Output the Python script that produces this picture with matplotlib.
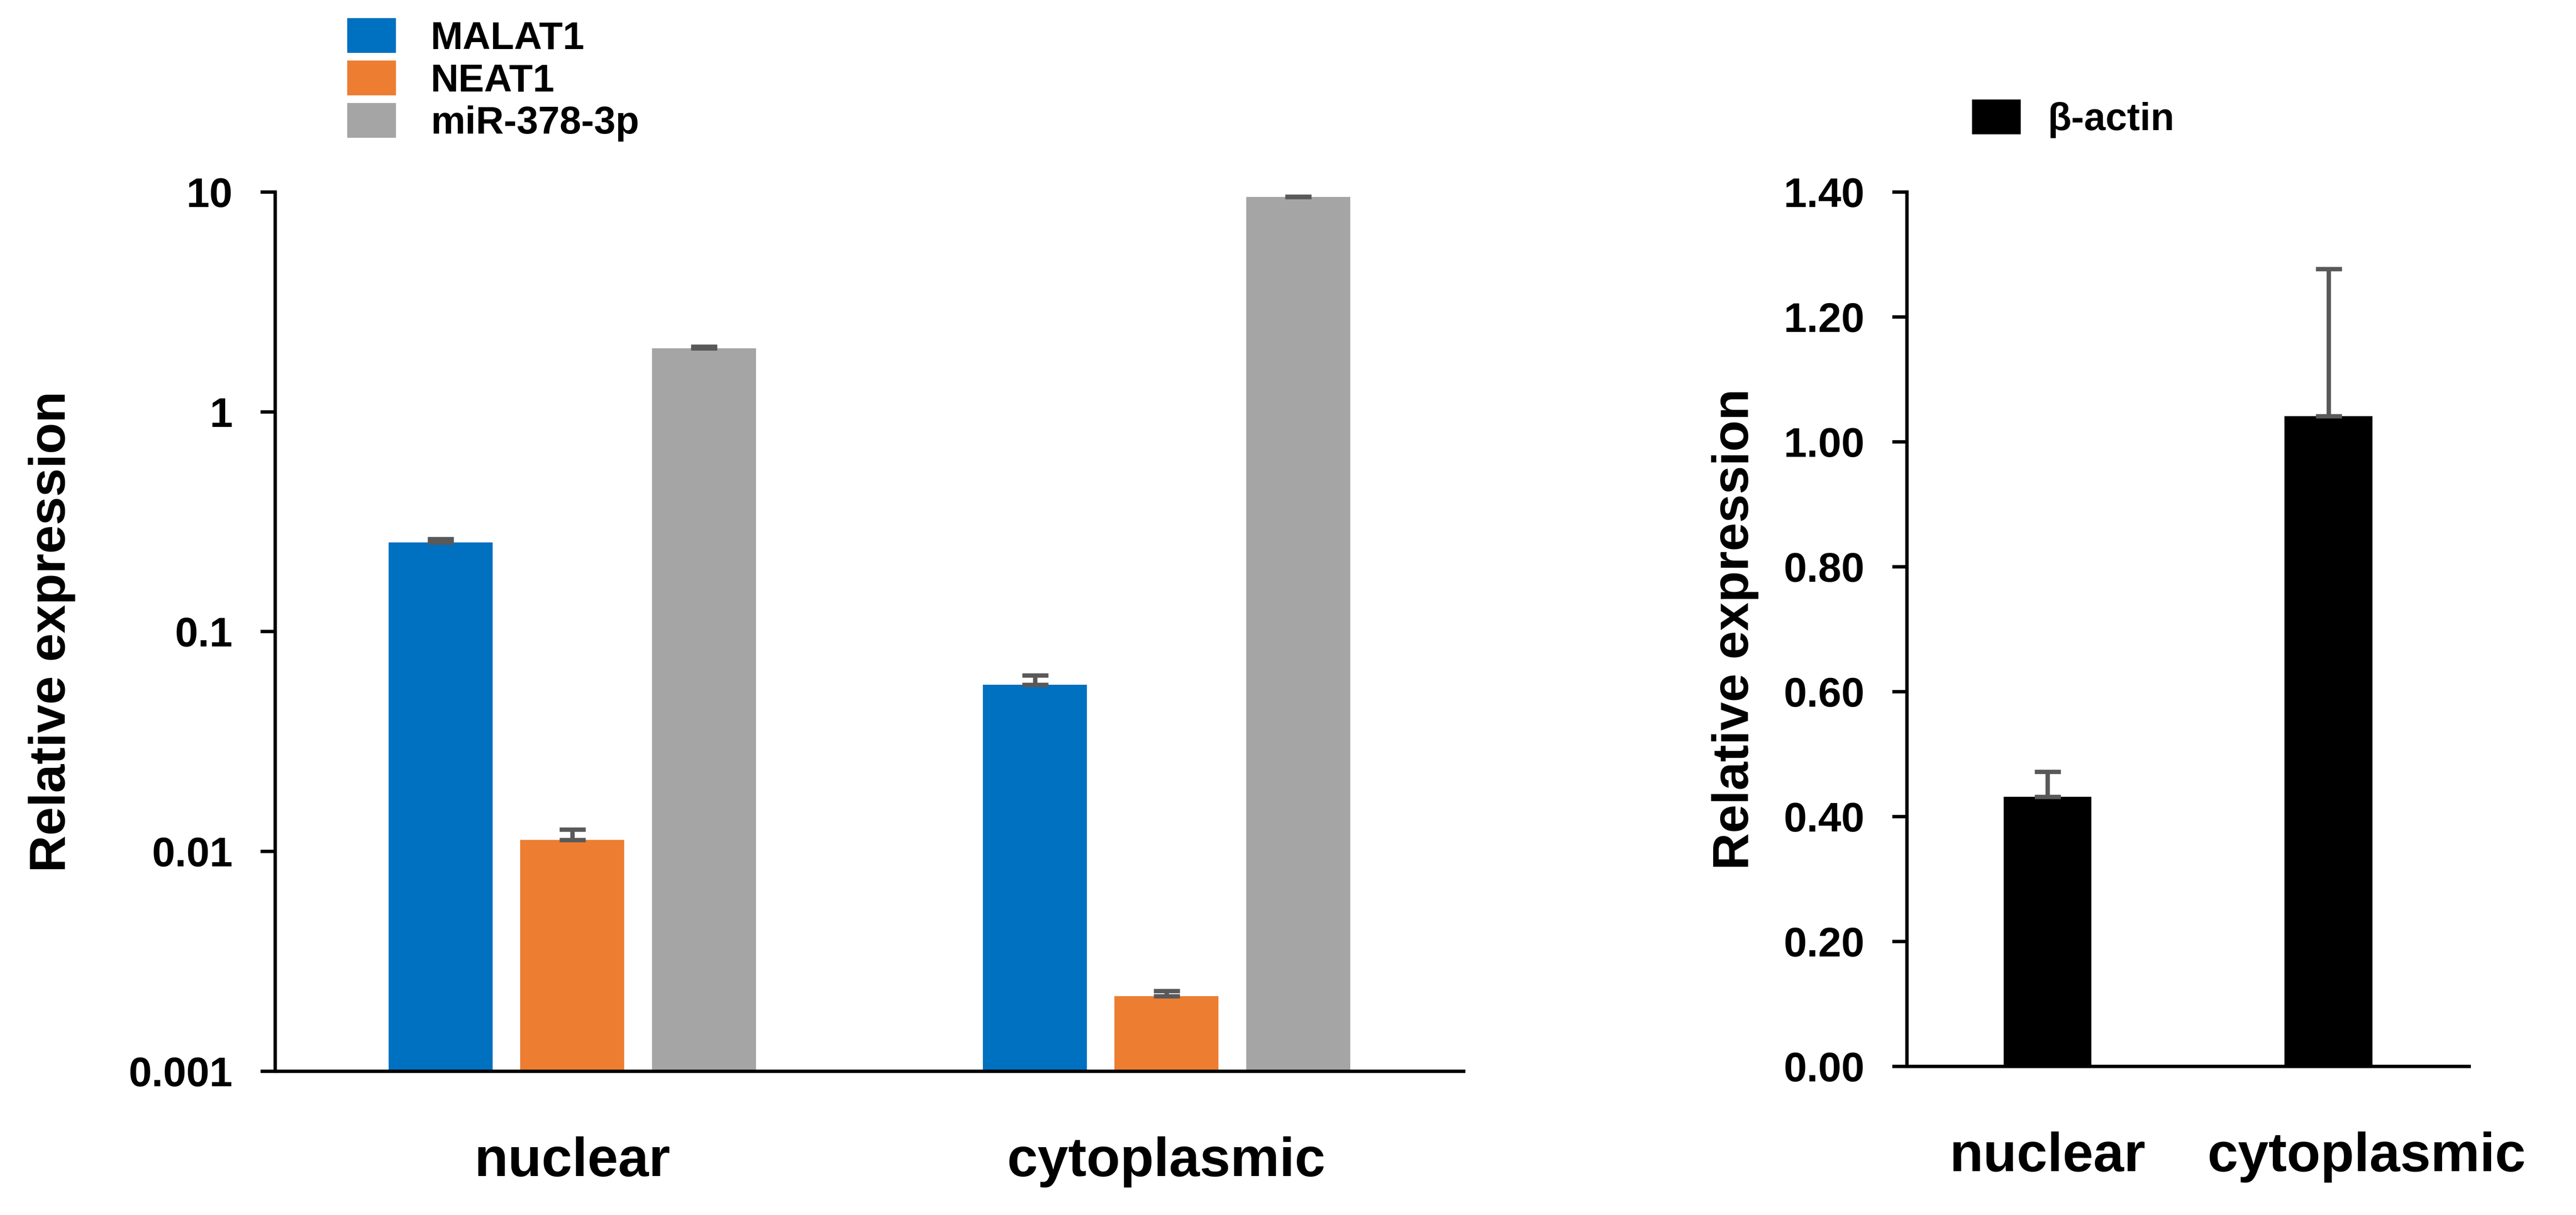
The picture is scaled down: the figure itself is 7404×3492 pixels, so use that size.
import matplotlib
matplotlib.use("Agg")
import matplotlib.pyplot as plt
import matplotlib.transforms as mtransforms
import numpy as np

# data
groups = ["nuclear", "cytoplasmic"]
series = ["MALAT1", "NEAT1", "miR-378-3p"]
colors = ["#0070C0", "#ED7D31", "#A5A5A5"]
malat1 = [0.255, 0.0574]
malat1_err = [0.009, 0.006]
neat1 = [0.0113, 0.0022]
neat1_err = [0.0013, 0.00012]
mir378 = [1.95, 9.5]
mir378_err = [0.03, 0.05]
actin = [0.432, 1.041]
actin_err = [0.04, 0.236]
log_ticks = [0.001, 0.01, 0.1, 1, 10]
log_labels = ["0.001", "0.01", "0.1", "1", "10"]
lin_ticks = [0.0, 0.2, 0.4, 0.6, 0.8, 1.0, 1.2, 1.4]

plt.rcParams['font.family'] = ['Liberation Sans', 'DejaVu Sans']
plt.rcParams['font.weight'] = 'bold'

fig = plt.figure(figsize=(74.04, 34.92), dpi=100)
ax1 = fig.add_axes([0.1068, 0.1183, 0.4614, 0.7236])
ax2 = fig.add_axes([0.7403, 0.1223, 0.2182, 0.7196])

tick_fs = 86
label_fs = 106
xlab_fs = 114
leg_fs = 80
err_kw = dict(ecolor="#595959", elinewidth=9, capsize=27, capthick=9)

x = np.arange(len(groups))
w = 0.175
step = 0.2215
vals = [malat1, neat1, mir378]
errs = [malat1_err, neat1_err, mir378_err]
handles = []
for i in range(3):
    e = np.array(errs[i])
    b = ax1.bar(x + (i - 1) * step, vals[i], w, color=colors[i], label=series[i],
                yerr=[np.zeros_like(e), e], error_kw=err_kw, zorder=2)
    handles.append(b)

ax1.set_yscale("log")
ax1.set_ylim(0.001, 10)
ax1.set_yticks(log_ticks)
ax1.set_yticklabels(log_labels)
ax1.minorticks_off()
ax1.set_xlim(-0.5, 1.5)

e = np.array(actin_err)
b2 = ax2.bar(x, actin, 0.313, color="black", label="β-actin",
             yerr=[np.zeros_like(e), e], error_kw=err_kw, zorder=2)
ax2.set_ylim(0, 1.4)
ax2.set_yticks(lin_ticks)
ax2.set_yticklabels(["%.2f" % t for t in lin_ticks])
ax2.set_xlim(-0.5, 1.5)

for ax in (ax1, ax2):
    for s in ["top", "right"]:
        ax.spines[s].set_visible(False)
    for s in ["left", "bottom"]:
        ax.spines[s].set_linewidth(7)
    ax.tick_params(axis="y", length=30, width=7, pad=58, labelsize=tick_fs)
    ax.tick_params(axis="x", length=0, pad=135, labelsize=xlab_fs)
    ax.set_xticks(x)
    ax.set_xticklabels(groups, fontweight="bold")
    ax.set_ylabel("Relative expression", fontsize=label_fs, fontweight="bold")

ax1.yaxis.set_label_coords(-0.168, 0.5)
ax2.yaxis.set_label_coords(-0.264, 0.5)

# right-hand "cytoplasmic" label sits a little right of its bar
lab = ax2.get_xticklabels()[1]
lab.set_transform(lab.get_transform() +
                  mtransforms.ScaledTranslation(1.1, 0, fig.dpi_scale_trans))

fig.legend(handles=handles, labels=series, loc="upper left",
           bbox_to_anchor=(0.1348, 0.985), frameon=False, fontsize=leg_fs,
           handlelength=1.26, handleheight=1.0, handletextpad=0.9,
           labelspacing=0.1, borderpad=0, borderaxespad=0)
fig.legend(handles=[b2], labels=["β-actin"], loc="upper left",
           bbox_to_anchor=(0.7655, 0.918), frameon=False, fontsize=leg_fs,
           handlelength=1.26, handleheight=1.0, handletextpad=0.7,
           borderpad=0, borderaxespad=0)

fig.savefig("out.png", dpi=100, facecolor="white")
